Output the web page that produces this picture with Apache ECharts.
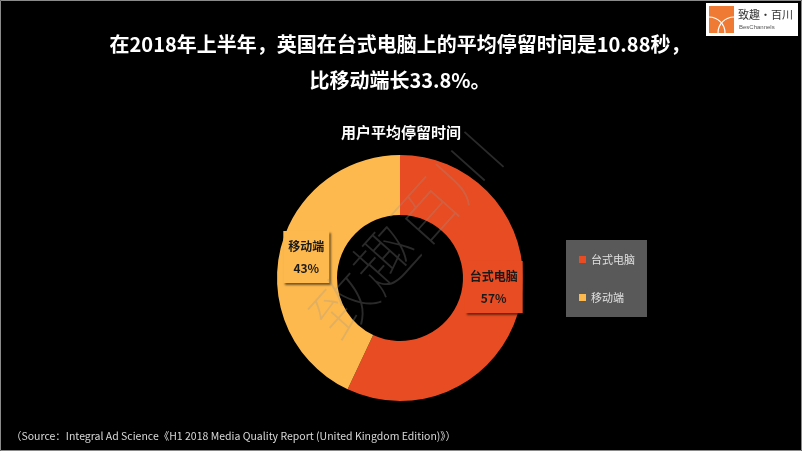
<!DOCTYPE html>
<html><head><meta charset="utf-8">
<script src="https://cdn.jsdelivr.net/npm/echarts@6/dist/echarts.min.js"></script>
<style>html,body{margin:0;padding:0;background:#000;}#c{width:802px;height:451px;}</style>
</head><body><div id="c"></div>
<script>
const categories = ['台式电脑', '移动端'];
const values = [57, 43];
const colors = ['#E84C22', '#FDB94D'];
const titleLines = ['在2018年上半年，英国在台式电脑上的平均停留时间是10.88秒，', '比移动端长33.8%。'];
const chartTitle = '用户平均停留时间';
const sourceText = '（Source：Integral Ad Science《H1 2018 Media Quality Report (United Kingdom Edition)》）';

const chart = echarts.init(document.getElementById('c'), null, {renderer: 'canvas'});
const CJK = '"Noto Sans CJK SC", "Noto Sans", sans-serif';
chart.setOption({
  backgroundColor: '#000',
  animation: false,
  title: [
    {text: chartTitle, left: 'center', top: 120,
     textStyle: {color: '#fff', fontSize: 15, fontWeight: 'bold', fontFamily: CJK}},
    {text: sourceText, left: 6, top: 426,
     textStyle: {color: '#d9d9d9', fontSize: 10.5, fontWeight: 'normal', fontFamily: CJK}}
  ],
  legend: {
    orient: 'vertical', left: 566, top: 240,
    backgroundColor: '#595959', padding: [14, 12, 14, 13],
    itemWidth: 7, itemHeight: 7, itemGap: 27, icon: 'rect',
    textStyle: {color: '#e0e0e0', fontSize: 11, fontFamily: CJK},
    data: categories
  },
  series: [{
    type: 'pie', center: [400, 278], radius: [63, 123],
    startAngle: 90, clockwise: true, silent: true,
    data: categories.map((n, i) => ({name: n, value: values[i], itemStyle: {color: colors[i]},
      label: {backgroundColor: colors[i]}})),
    label: {
      show: true, position: 'inside',
      formatter: p => '{n|' + p.name + '}\n{v|' + p.value + '%}',
      padding: [4, 5, 4, 5],
      shadowColor: 'rgba(0,0,0,0.55)', shadowOffsetX: 2, shadowOffsetY: 2, shadowBlur: 2,
      rich: {
        n: {color: '#1a1a1a', fontSize: 12, fontWeight: 'bold', fontFamily: CJK, lineHeight: 22},
        v: {color: '#1a1a1a', fontSize: 12, fontWeight: 'bold', fontFamily: CJK, lineHeight: 22}
      }
    },
    labelLayout: p => (p.dataIndex === 0 ? {dy: -12} : {dy: 0}),
    labelLine: {show: false}
  }],
  graphic: [
    {type: 'text', x: 400, y: 44, z: 20,
     style: {text: titleLines[0], fill: '#fff', fontSize: 20, fontWeight: 'bold', fontFamily: CJK,
             align: 'center', verticalAlign: 'middle'}},
    {type: 'text', x: 400, y: 80, z: 20,
     style: {text: titleLines[1], fill: '#fff', fontSize: 20, fontWeight: 'bold', fontFamily: CJK,
             align: 'center', verticalAlign: 'middle'}},
    {type: 'rect', shape: {x: 0.5, y: 0.5, width: 801, height: 450}, z: 100,
     style: {fill: 'none', stroke: '#8a8a8a', lineWidth: 1}},
    {type: 'text', x: 405, y: 235, rotation: 0.84, z: 50,
     style: {text: '致趣百川', fill: 'rgba(150,150,150,0.28)', fontSize: 62, fontWeight: 100,
             fontFamily: CJK, align: 'center', verticalAlign: 'middle'}},
    {type: 'rect', shape: {x: 706, y: 3, width: 92, height: 33}, z: 60, style: {fill: '#fff'}},
    {type: 'rect', shape: {x: 709, y: 6, width: 25, height: 27}, z: 61, style: {fill: '#EE7A33'}},
    {type: 'arc', shape: {cx: 709, cy: 33, r: 16, startAngle: -Math.PI / 2, endAngle: 0}, z: 62,
     style: {stroke: '#fff', lineWidth: 1.2, fill: 'none'}},
    {type: 'arc', shape: {cx: 734, cy: 33, r: 16, startAngle: Math.PI, endAngle: 3 * Math.PI / 2}, z: 62,
     style: {stroke: '#fff', lineWidth: 1.2, fill: 'none'}},
    {type: 'text', z: 62, style: {x: 738, y: 9, text: '致趣·百川', fill: '#333', fontSize: 11, fontFamily: CJK}},
    {type: 'text', z: 62, style: {x: 739, y: 24, text: 'BesChannels', fill: '#555', fontSize: 6, fontFamily: 'sans-serif'}}
  ]
});
</script></body></html>
